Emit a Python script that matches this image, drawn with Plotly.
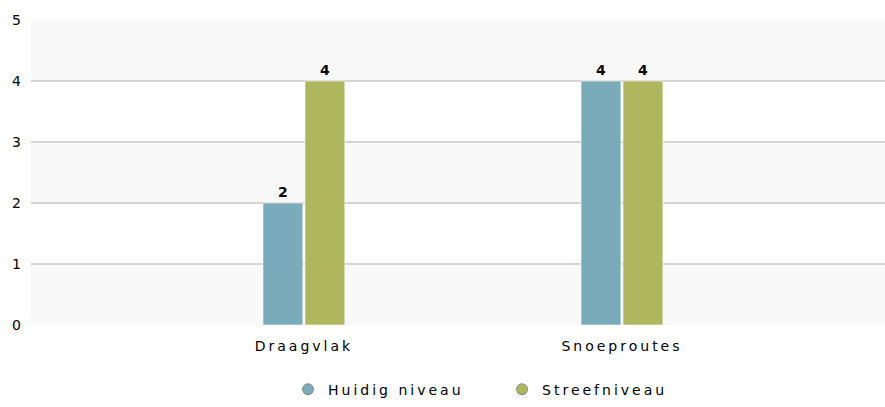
import plotly.graph_objects as go

categories = ["Draagvlak", "Snoeproutes"]
huidig = [2, 4]
streef = [4, 4]
series_names = ["Huidig niveau", "Streefniveau"]
y_ticks = [0, 1, 2, 3, 4, 5]

blue = "#7aabba"
green = "#aeb75d"

fig = go.Figure()
for name, vals, col in [(series_names[0], huidig, blue), (series_names[1], streef, green)]:
    fig.add_trace(go.Bar(
        x=categories, y=vals, name=name, showlegend=False,
        marker=dict(color=col, line=dict(color="rgba(255,255,255,0.6)", width=1)),
        text=vals, texttemplate="<b>%{text}</b>", textposition="outside",
        textfont=dict(family="DejaVu Sans", size=14, color="#000"),
        cliponaxis=False,
    ))
    fig.add_trace(go.Scatter(
        x=[None], y=[None], mode="markers", name=name, showlegend=True,
        marker=dict(symbol="circle", size=11, color=col, line=dict(color="#8a8a8a", width=1)),
    ))

# alternating background bands
for lo in [0, 2, 4]:
    fig.add_shape(type="rect", xref="paper", yref="y", x0=0, x1=1, y0=lo, y1=lo + 1,
                  fillcolor="#f9f9f9", line=dict(width=0), layer="below")

fig.update_layout(
    width=885, height=407,
    margin=dict(l=31, r=0, t=20, b=82),
    paper_bgcolor="white", plot_bgcolor="white",
    barmode="group", bargap=0.736, bargroupgap=0.05,
    font=dict(family="DejaVu Sans", size=14, color="#000"),
    xaxis=dict(range=[-0.858, 1.827], showgrid=False, zeroline=False, showline=False,
               ticks="", tickfont=dict(size=14, color="#000"), automargin=False,
               ticklabelstandoff=11),
    yaxis=dict(range=[0, 5], tickvals=y_ticks, showgrid=True, gridcolor="#d4d4d4", gridwidth=1.5,
               zeroline=False, showline=False, ticks="", tickfont=dict(size=14, color="#000"),
               ticklabelstandoff=9, automargin=False),
    legend=dict(orientation="h", x=0.301, xanchor="left", y=-0.212, yanchor="middle",
                font=dict(size=14, color="#000"), itemwidth=30, bgcolor="rgba(0,0,0,0)",
                entrywidth=169, entrywidthmode="pixels"),
)

post = """
document.body.style.margin = '0';
var gd = document.getElementById('{plot_id}');
gd.querySelectorAll('.xtick text, .legendtext').forEach(function(t){ t.style.letterSpacing = '3px'; });
"""

fig.write_html("out.html", post_script=post, config={"displayModeBar": False})
